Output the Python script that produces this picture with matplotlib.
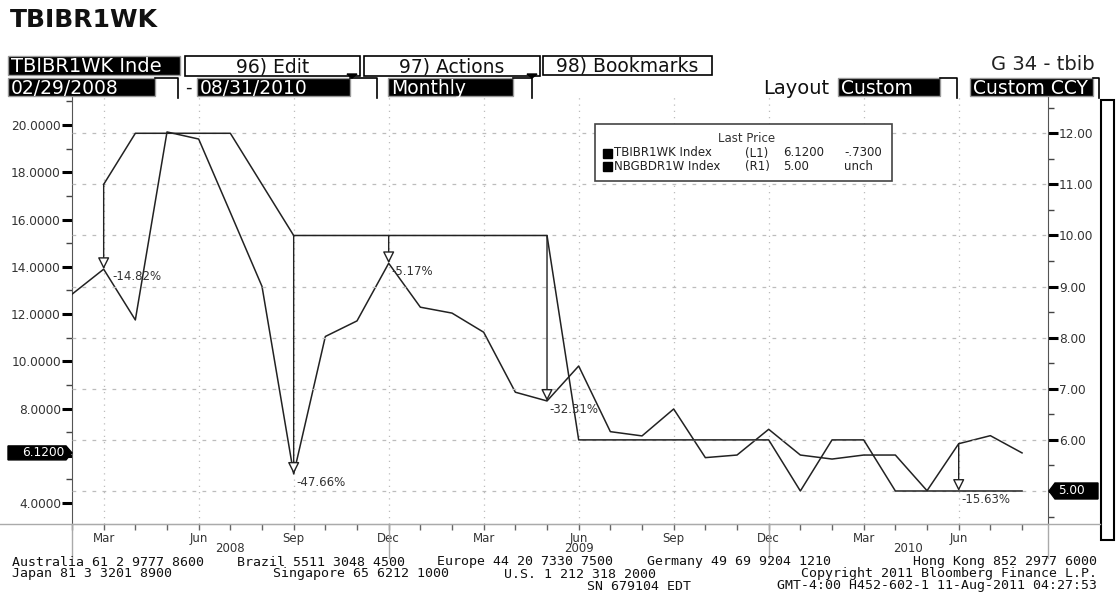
import numpy as np
import pandas as pd
import matplotlib
matplotlib.use("Agg")
import matplotlib.pyplot as plt
from matplotlib.patches import Rectangle, Polygon
from matplotlib.lines import Line2D
from matplotlib.transforms import blended_transform_factory, IdentityTransform

# ---------------- data ----------------
dates = pd.date_range("2008-02-29", "2010-08-31", freq="ME")
tbibr1wk = [12.84, 13.90, 11.75, 19.71, 19.41, 16.30, 13.17, 5.23, 11.05, 11.71,
            14.15, 12.29, 12.04, 11.23, 8.69, 8.32, 9.80, 7.02, 6.84, 7.98,
            5.92, 6.03, 7.12, 6.03, 5.86, 6.03, 6.03, 4.52, 6.51, 6.85, 6.12]
nbgbdr1w = [np.nan, 11.0, 12.0, 12.0, 12.0, 12.0, 11.0, 10.0, 10.0, 10.0,
            10.0, 10.0, 10.0, 10.0, 10.0, 10.0, 6.0, 6.0, 6.0, 6.0,
            6.0, 6.0, 6.0, 5.0, 6.0, 6.0, 5.0, 5.0, 5.0, 5.0, 5.0]
ann_idx = [1, 7, 10, 15, 28]
ann_text = ["-14.82%", "-47.66%", "-5.17%", "-32.31%", "-15.63%"]
left_ticks = [4, 6, 8, 10, 12, 14, 16, 18, 20]
right_ticks = [5, 6, 7, 8, 9, 10, 11, 12]

# ---------------- figure ----------------
W, H = 1117, 593
fig = plt.figure(figsize=(W / 100, H / 100), dpi=100)
fig.patch.set_facecolor("white")


def fx(x):
    return x / W


def fy(y):
    return 1 - y / H


LINE = "#222222"
GRID = "#bcbcbc"
TXT = "#333333"

ax = fig.add_axes([fx(72), fy(524), fx(1048) - fx(72), fy(97) - fy(524)])
ax2 = ax.twinx()

x = np.arange(len(dates))
xmax = len(dates) - 1 + 0.82
ax.set_xlim(0, xmax)
ax.set_ylim(3.11, 21.19)
ax2.set_ylim(4.354, 12.71)

ax.plot(x, tbibr1wk, color=LINE, lw=1.1, zorder=3)
ax2.plot(x, nbgbdr1w, color=LINE, lw=1.1, zorder=3)

# ticks
quarters = [i for i, d in enumerate(dates) if d.month in (3, 6, 9, 12)]
ax.set_xticks(quarters)
ax.set_xticklabels([dates[i].strftime("%b") for i in quarters])
ax.set_xticks(x, minor=True)
ax.tick_params(axis="x", which="both", direction="out", length=4, width=1,
               color="#666", labelsize=8.5, labelcolor=TXT, pad=1.5)
ax.grid(axis="x", which="major", linestyle=(0, (1, 4)), color=GRID, lw=0.9)

ax.set_yticks(left_ticks)
ax.set_yticklabels(["" if v == 6 else f"{v:.4f}" for v in left_ticks])
ax.set_yticks(np.arange(5, 22, 2), minor=True)
ax.tick_params(axis="y", which="major", direction="out", length=7, width=2.2,
               color="black", labelsize=8.7, labelcolor=TXT, pad=1)
ax.tick_params(axis="y", which="minor", direction="out", length=4, width=1, color="#444")

ax2.set_yticks(right_ticks)
ax2.set_yticklabels(["" if v == 5 else f"{v:.2f}" for v in right_ticks])
ax2.set_yticks(np.arange(4.5, 12.6, 1.0), minor=True)
ax2.tick_params(axis="y", which="major", direction="out", length=7, width=2.2,
                color="black", labelsize=8.7, labelcolor=TXT, pad=1)
ax2.tick_params(axis="y", which="minor", direction="out", length=4, width=1, color="#444")
ax2.grid(axis="y", which="major", linestyle=(0, (3, 5)), color=GRID, lw=0.9)

for s in ("top", "right"):
    ax.spines[s].set_visible(False)
for s in ("top", "left", "bottom"):
    ax2.spines[s].set_visible(False)
ax.spines["left"].set_color("#555")
ax.spines["bottom"].set_color("#999")
ax2.spines["right"].set_color("#555")

# ---------------- annotations (arrows) ----------------
label_offsets = {1: (6.5, -5), 7: (2, -6), 10: (2, -6), 15: (2, -6.5), 28: (2, -6)}
for i, t in zip(ann_idx, ann_text):
    yl2 = ax2.transData.inverted().transform(ax.transData.transform((i, tbibr1wk[i])))[1]
    r = nbgbdr1w[i]
    start, end = (r, yl2) if r > yl2 else (yl2, r)
    ax2.annotate("", xy=(i, end), xytext=(i, start),
                 arrowprops=dict(arrowstyle="-|>,head_length=0.7,head_width=0.35",
                                 fc="white", ec=LINE, lw=1.0, shrinkA=0, shrinkB=0),
                 zorder=4)
    ax2.annotate(t, xy=(i, end), xytext=label_offsets[i], textcoords="offset points",
                 ha="left", va="center", fontsize=8.5, color=TXT, zorder=5)

# ---------------- axis decorations below ----------------
blend = blended_transform_factory(ax.transData, fig.transFigure)
fig.add_artist(Line2D([0, fx(1100)], [fy(524), fy(524)], transform=fig.transFigure,
                      color="#aaa", lw=1))
bounds = [0] + [i for i in range(len(dates) - 1) if dates[i].year != dates[i + 1].year] + [xmax]
for b in bounds:
    fig.add_artist(Line2D([b, b], [fy(524), fy(558)], transform=blend, color="#aaa", lw=1))
years = sorted(set(d.year for d in dates))
for k, yr in enumerate(years):
    cx = (bounds[k] + bounds[k + 1]) / 2
    fig.text(cx, fy(549), str(yr), transform=blend, ha="center", va="center",
             fontsize=8.5, color=TXT)

# last value markers
yd = ax.transData.transform((0, tbibr1wk[-1]))[1]
fig.add_artist(Polygon([(8, yd - 7), (66, yd - 7), (72, yd), (66, yd + 7), (8, yd + 7)],
                       closed=True, transform=IdentityTransform(), fc="black", ec="black"))
fig.text(64, yd, f"{tbibr1wk[-1]:.4f}", transform=IdentityTransform(), ha="right",
         va="center", fontsize=8.7, color="white")
yr5 = ax2.transData.transform((0, nbgbdr1w[-1]))[1]
fig.add_artist(Polygon([(1049, yr5), (1055, yr5 + 8), (1098, yr5 + 8), (1098, yr5 - 8),
                        (1055, yr5 - 8)], closed=True, transform=IdentityTransform(),
                       fc="black", ec="black"))
fig.text(1058, yr5, f"{nbgbdr1w[-1]:.2f}", transform=IdentityTransform(), ha="left",
         va="center", fontsize=8.7, color="white")

# ---------------- legend ----------------
fig.add_artist(Rectangle((fx(595), fy(181)), fx(892) - fx(595), fy(124) - fy(181),
                         transform=fig.transFigure, fc="white", ec="#444", lw=1.2, zorder=6))
fig.text(fx(747), fy(138), "Last Price", ha="center", va="center", fontsize=8.5,
         color=TXT, zorder=7)
chg = tbibr1wk[-1] - tbibr1wk[-2]
rows = [("TBIBR1WK Index", "(L1)", f"{tbibr1wk[-1]:.4f}",
         f"{chg:.4f}".replace("0.", ".")),
        ("NBGBDR1W Index", "(R1)", f"{nbgbdr1w[-1]:.2f}", "unch")]
for r, (name, ax_id, val, c) in enumerate(rows):
    yy = 153 + r * 14
    fig.add_artist(Rectangle((fx(603), fy(yy + 4.5)), fx(9), fy(0) - fy(9),
                             transform=fig.transFigure, fc="black", ec="black", zorder=7))
    for xx, s in ((614, name), (745, ax_id), (783, val), (844, c)):
        fig.text(fx(xx), fy(yy), s, ha="left", va="center", fontsize=8.5, color="#222",
                 zorder=7)

# ---------------- header ----------------
fig.text(fx(10), fy(20), "TBIBR1WK", ha="left", va="center", fontsize=18,
         fontweight="bold", color="#111")


def black_box(x0, x1, y0, y1, text, outline_x=None, fs=13.5):
    fig.add_artist(Rectangle((fx(x0), fy(y1)), fx(x1) - fx(x0), fy(y0) - fy(y1),
                             transform=fig.transFigure, fc="black", ec="#999", lw=1))
    fig.text(fx(x0 + 3), fy((y0 + y1) / 2 + 1), text, ha="left", va="center",
             fontsize=fs, color="white")
    if outline_x is not None:
        fig.add_artist(Line2D([fx(x1), fx(outline_x), fx(outline_x)],
                              [fy(y0), fy(y0), fy(y1 + 2)], transform=fig.transFigure,
                              color="black", lw=1.2))


def white_box(x0, x1, y0, y1, text, arrow=True):
    fig.add_artist(Rectangle((fx(x0), fy(y1)), fx(x1) - fx(x0), fy(y0) - fy(y1),
                             transform=fig.transFigure, fc="white", ec="black", lw=1.2))
    fig.text(fx((x0 + x1) / 2), fy((y0 + y1) / 2 + 1), text, ha="center", va="center",
             fontsize=13.5, color="#111")
    if arrow:
        fig.add_artist(Polygon([(fx(x1 - 13), fy(y1 - 2)), (fx(x1 - 3), fy(y1 - 2)),
                                (fx(x1 - 8), fy(y1 + 2))], closed=True,
                               transform=fig.transFigure, fc="black", ec="black"))


black_box(8, 180, 56, 75, "TBIBR1WK Inde", fs=14)
white_box(185, 360, 56, 76, "96) Edit")
white_box(364, 540, 56, 76, "97) Actions")
white_box(543, 712, 56, 75, "98) Bookmarks", arrow=False)
fig.text(fx(1095), fy(65), "G 34 - tbib", ha="right", va="center", fontsize=14,
         color="#222")

black_box(8, 155, 78, 96, "02/29/2008", outline_x=178)
fig.text(fx(185), fy(88), "-", ha="left", va="center", fontsize=13, color="#111")
black_box(197, 350, 78, 96, "08/31/2010", outline_x=377)
black_box(388, 513, 78, 96, "Monthly", outline_x=532)
fig.text(fx(763), fy(88), "Layout", ha="left", va="center", fontsize=14, color="#111")
black_box(838, 940, 78, 96, "Custom", outline_x=957)
black_box(970, 1093, 78, 96, "Custom CCY", outline_x=1099)

# scroll bar on the right
fig.add_artist(Rectangle((fx(1101), fy(540)), fx(13), fy(100) - fy(540),
                         transform=fig.transFigure, fc="white", ec="black", lw=1.5))

# ---------------- footer ----------------
foot = dict(ha="left", va="center", fontsize=9.5, family="DejaVu Sans Mono", color="#111")
for s, xx in (("Australia 61 2 9777 8600", 12), ("Brazil 5511 3048 4500", 237),
              ("Europe 44 20 7330 7500", 437), ("Germany 49 69 9204 1210", 647)):
    fig.text(fx(xx), fy(562), s, **foot)
fig.text(fx(1097), fy(562), "Hong Kong 852 2977 6000", **{**foot, "ha": "right"})
for s, xx in (("Japan 81 3 3201 8900", 12), ("Singapore 65 6212 1000", 273),
              ("U.S. 1 212 318 2000", 504)):
    fig.text(fx(xx), fy(574), s, **foot)
fig.text(fx(1097), fy(574), "Copyright 2011 Bloomberg Finance L.P.", **{**foot, "ha": "right"})
fig.text(fx(587), fy(586), "SN 679104 EDT", **foot)
fig.text(fx(1097), fy(586), "GMT-4:00 H452-602-1 11-Aug-2011 04:27:53",
         **{**foot, "ha": "right"})

fig.savefig("out.png", dpi=100, facecolor="white")
